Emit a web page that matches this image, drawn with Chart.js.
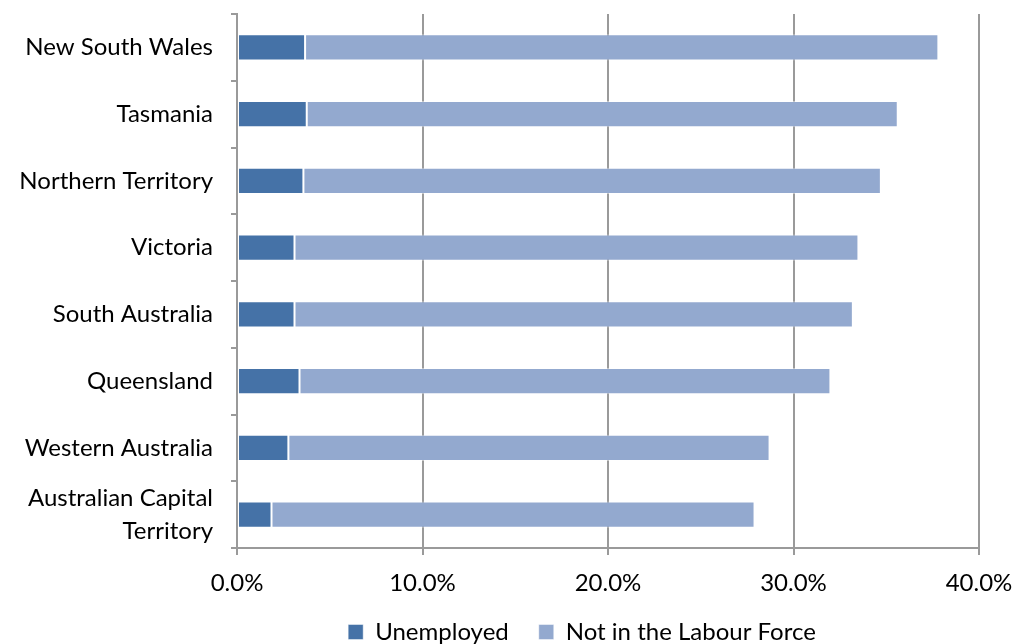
<!DOCTYPE html>
<html>
<head>
<meta charset="utf-8">
<script src="https://cdn.jsdelivr.net/npm/chart.js@4.4.1/dist/chart.umd.min.js"></script>
<style>
  html, body { margin: 0; padding: 0; background: #ffffff; }
  #wrap { width: 1016px; height: 644px; position: relative; }
</style>
</head>
<body>
<div id="wrap"><canvas id="chart" width="1016" height="644"></canvas></div>
<script>
// States and territories, ordered top to bottom
const regions = [
  'New South Wales',
  'Tasmania',
  'Northern Territory',
  'Victoria',
  'South Australia',
  'Queensland',
  'Western Australia',
  ['Australian Capital', 'Territory']
];

// Share of population (%)
const unemployed = [3.67, 3.76, 3.58, 3.10, 3.10, 3.37, 2.77, 1.86];
const notInLabourForce = [34.14, 31.86, 31.13, 30.40, 30.10, 28.62, 25.94, 26.04];

// Percentage axis ticks
const xTicks = [0, 10, 20, 30, 40];

const FONT = "Lato, 'Open Sans', sans-serif";
const FONT_SIZE = 24;
const AXIS_GREY = '#9a9a9a';

// Legend sits centred under the plot area rather than the whole canvas
const LEGEND_SHIFT_X = 185;
const LEGEND_SHIFT_Y = -10;

const legendPlacement = {
  id: 'legendPlacement',
  afterLayout(chart) {
    const lg = chart.legend;
    if (!lg) return;
    lg.left += LEGEND_SHIFT_X;
    lg.top += LEGEND_SHIFT_Y;
    lg.bottom += LEGEND_SHIFT_Y;
  }
};

new Chart(document.getElementById('chart'), {
  type: 'bar',
  data: {
    labels: regions,
    datasets: [
      {
        label: 'Unemployed',
        data: unemployed,
        backgroundColor: '#4572a7',
        borderColor: 'rgba(255,255,255,0.45)',
        borderWidth: 1,
        borderSkipped: false,
        barPercentage: 0.39,
        categoryPercentage: 1.0
      },
      {
        label: 'Not in the Labour Force',
        data: notInLabourForce,
        backgroundColor: '#93a9cf',
        borderColor: 'rgba(255,255,255,0.45)',
        borderWidth: 1,
        borderSkipped: false,
        barPercentage: 0.39,
        categoryPercentage: 1.0
      }
    ]
  },
  options: {
    indexAxis: 'y',
    responsive: false,
    animation: false,
    devicePixelRatio: 1,
    layout: { padding: { top: 14, right: 37, left: 0, bottom: -20 } },
    scales: {
      x: {
        stacked: true,
        min: 0,
        max: 40,
        afterBuildTicks: (scale) => { scale.ticks = xTicks.map(v => ({ value: v })); },
        afterFit: (scale) => {
          scale.height = 52;
          scale.paddingLeft = 0;
          scale.paddingRight = 0;
        },
        ticks: {
          color: '#000000',
          font: { family: FONT, size: FONT_SIZE },
          padding: 14,
          maxRotation: 0,
          callback: (v) => Number(v).toFixed(1) + '%'
        },
        grid: {
          color: AXIS_GREY,
          lineWidth: 2,
          tickLength: 7,
          drawTicks: true
        },
        border: { color: AXIS_GREY, width: 2 }
      },
      y: {
        stacked: true,
        afterFit: (scale) => {
          scale.width = 237;
          scale.paddingTop = 0;
          scale.paddingBottom = 0;
        },
        ticks: {
          color: '#000000',
          font: { family: FONT, size: FONT_SIZE, lineHeight: 1.35 },
          padding: 18,
          autoSkip: false
        },
        grid: {
          offset: true,
          drawOnChartArea: false,
          color: AXIS_GREY,
          lineWidth: 2,
          tickLength: 6
        },
        border: { color: AXIS_GREY, width: 2 }
      }
    },
    plugins: {
      legend: {
        position: 'bottom',
        labels: {
          color: '#000000',
          font: { family: FONT, size: FONT_SIZE },
          boxWidth: 15,
          boxHeight: 15,
          padding: 30
        }
      },
      tooltip: { enabled: false }
    }
  },
  plugins: [legendPlacement]
});
</script>
</body>
</html>
